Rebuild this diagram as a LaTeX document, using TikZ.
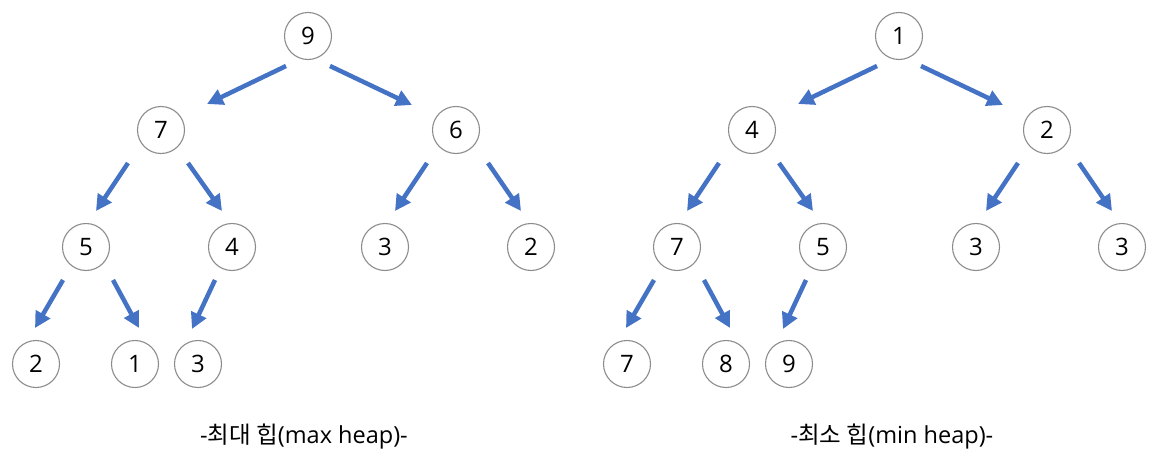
\documentclass[tikz,border=0pt]{standalone}
\usepackage{fontspec}
\setmainfont{Open Sans}
\newfontfamily\kr{Noto Sans CJK KR}
\usetikzlibrary{arrows.meta}
\definecolor{arrowblue}{HTML}{4472C4}
\definecolor{ringgray}{HTML}{8C8C8C}
\tikzset{
  heapnode/.style={circle, draw=ringgray, line width=1.1pt, minimum size=47pt, inner sep=0pt, font=\fontsize{24}{27}\selectfont, text=black},
  heaparrow/.style={draw=arrowblue, line width=4.5pt, -{Triangle[length=16pt,width=16pt]}},
  caption/.style={font=\fontsize{23.5}{27}\selectfont, text=black}
}
\begin{document}
\begin{tikzpicture}[x=1pt,y=-1pt]
\useasboundingbox (0,0) rectangle (1172,471);
% ---------- max heap ----------
\begin{scope}
\node[heapnode] (a9) at (308,36) {9};
\node[heapnode] (a7) at (161,130) {7};
\node[heapnode] (a6) at (456,130) {6};
\node[heapnode] (a5) at (86,247) {5};
\node[heapnode] (a4) at (232,247) {4};
\node[heapnode] (a3) at (385,247) {3};
\node[heapnode] (a2) at (531,247) {2};
\node[heapnode] (b2) at (36,364) {2};
\node[heapnode] (b1) at (135,364) {1};
\node[heapnode] (b3) at (198,364) {3};
\draw[heaparrow] ([shift={(-22,30)}]a9.center) -- ([shift={(46,-26)}]a7.center);
\draw[heaparrow] ([shift={(22,30)}]a9.center) -- ([shift={(-44,-25)}]a6.center);
\draw[heaparrow] ([shift={(-33,33)}]a7.center) -- ([shift={(10,-36)}]a5.center);
\draw[heaparrow] ([shift={(27,33)}]a7.center) -- ([shift={(-10,-36)}]a4.center);
\draw[heaparrow] ([shift={(-29,33)}]a6.center) -- ([shift={(10,-36)}]a3.center);
\draw[heaparrow] ([shift={(32,33)}]a6.center) -- ([shift={(-10,-36)}]a2.center);
\draw[heaparrow] ([shift={(-23,33)}]a5.center) -- ([shift={(-1,-36)}]b2.center);
\draw[heaparrow] ([shift={(27,33)}]a5.center) -- ([shift={(4,-36)}]b1.center);
\draw[heaparrow] ([shift={(-17,33)}]a4.center) -- ([shift={(-6,-35)}]b3.center);
\node[caption] (capmax) at (304,437) {-{\kr 최대 힙}(max heap)-};
\end{scope}
% ---------- min heap ----------
\begin{scope}[xshift=591pt]
\node[heapnode] (c1) at (308,36) {1};
\node[heapnode] (c4) at (161,130) {4};
\node[heapnode] (c2) at (456,130) {2};
\node[heapnode] (c7) at (86,247) {7};
\node[heapnode] (c5) at (232,247) {5};
\node[heapnode] (c3) at (385,247) {3};
\node[heapnode] (c3b) at (531,247) {3};
\node[heapnode] (d7) at (36,364) {7};
\node[heapnode] (d8) at (135,364) {8};
\node[heapnode] (d9) at (198,364) {9};
\draw[heaparrow] ([shift={(-22,30)}]c1.center) -- ([shift={(46,-26)}]c4.center);
\draw[heaparrow] ([shift={(22,30)}]c1.center) -- ([shift={(-44,-25)}]c2.center);
\draw[heaparrow] ([shift={(-33,33)}]c4.center) -- ([shift={(10,-36)}]c7.center);
\draw[heaparrow] ([shift={(27,33)}]c4.center) -- ([shift={(-10,-36)}]c5.center);
\draw[heaparrow] ([shift={(-29,33)}]c2.center) -- ([shift={(10,-36)}]c3.center);
\draw[heaparrow] ([shift={(32,33)}]c2.center) -- ([shift={(-10,-36)}]c3b.center);
\draw[heaparrow] ([shift={(-23,33)}]c7.center) -- ([shift={(-1,-36)}]d7.center);
\draw[heaparrow] ([shift={(27,33)}]c7.center) -- ([shift={(4,-36)}]d8.center);
\draw[heaparrow] ([shift={(-17,33)}]c5.center) -- ([shift={(-6,-35)}]d9.center);
\node[caption] (capmin) at (301,437) {-{\kr 최소 힙}(min heap)-};
\end{scope}
\end{tikzpicture}
\end{document}
